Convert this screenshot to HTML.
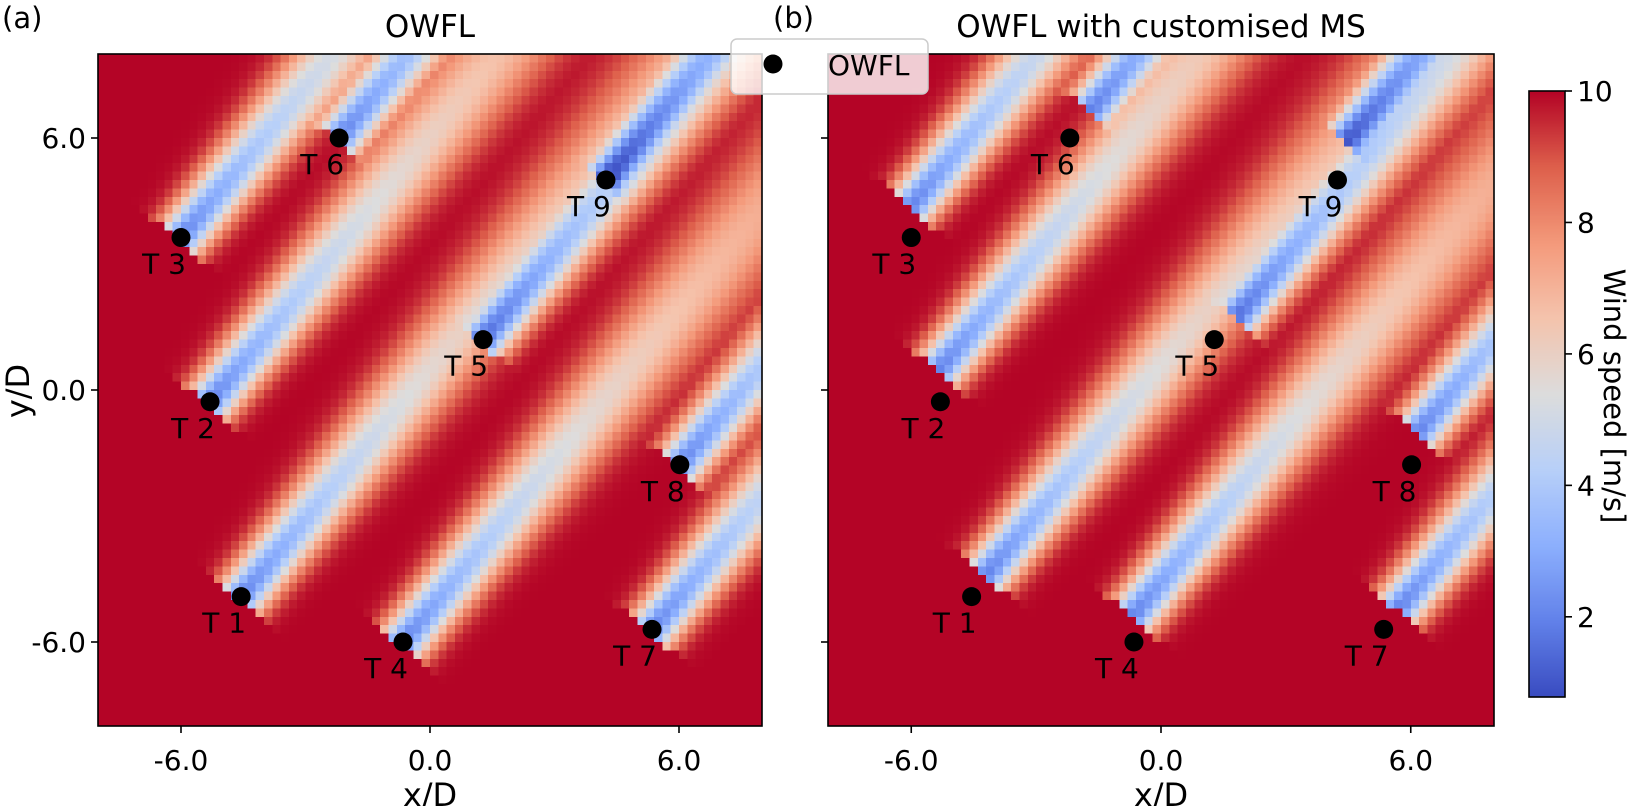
<!DOCTYPE html>
<html><head><meta charset="utf-8"><style>
html,body{margin:0;padding:0;background:#fff;}
#root{position:relative;width:1632px;height:806px;overflow:hidden;font-family:"Liberation Sans","DejaVu Sans",sans-serif;}
canvas{position:absolute;image-rendering:pixelated;}
svg{position:absolute;left:0;top:0;}
text{font-family:"DejaVu Sans","Liberation Sans",sans-serif;fill:#000;}
</style></head><body>
<div id="root">
<canvas id="hmA" width="80" height="80" style="left:98px;top:54px;width:664px;height:672px;"></canvas>
<canvas id="hmB" width="80" height="80" style="left:828px;top:54px;width:666px;height:672px;"></canvas>
<canvas id="cbar" width="1" height="200" style="left:1529px;top:91px;width:36px;height:606px;image-rendering:auto;"></canvas>
<svg id="ov" width="1632" height="806"></svg>
</div>
<script>
// ---- data ----
const turbineNames = ["T 1","T 2","T 3","T 4","T 5","T 6","T 7","T 8","T 9"];
const turbineX = [-4.55,-5.3,-6.0,-0.65,1.28,-2.19,5.35,6.02,4.24];
const turbineY = [-4.92,-0.28,3.63,-6.0,1.2,6.0,-5.7,-1.78,5.0];
const wakeShiftX = [0.38,0.0,0.03,0.0,0.56,0.52,0.38,0.18,0.24];
const wakeShiftY = [0.56,0.8,0.79,0.66,0.55,0.69,0.53,0.81,0.96];
const xTicks = [-6,0,6];
const yTicks = [6,0,-6];
const cbarTicks = [10,8,6,4,2];
const windDirDeg = 50;
const freeStream = 10, vmin = 0.78, vmax = 10;

const NS="http://www.w3.org/2000/svg";
const ov=document.getElementById('ov');
function el(tag,attrs,txt){const e=document.createElementNS(NS,tag);for(const k in attrs)e.setAttribute(k,attrs[k]);if(txt!==undefined)e.textContent=txt;ov.appendChild(e);return e;}

const panels=[
 {id:'hmA',x0:98,x1:762,y0:54,y1:726,cx:430,title:'OWFL',lab:'(a)',labX:2,shift:false,key:'a'},
 {id:'hmB',x0:828,x1:1494,y0:54,y1:726,cx:1161,title:'OWFL with customised MS',lab:'(b)',labX:773,shift:true,key:'b'}
];
function xScale(p,v){return p.x0+(v+8)/16*(p.x1-p.x0);}
function yScale(p,v){return p.y1-(v+8)/16*(p.y1-p.y0);}

const cmapStops=[[58,76,193],[98,130,234],[141,176,254],[184,208,249],[221,221,221],[245,196,173],[244,154,123],[222,96,76],[180,4,38]];
function cmap(v){let t=(v-vmin)/(vmax-vmin);t=Math.max(0,Math.min(1,t));const f=t*8;const i=Math.min(7,Math.floor(f));const r=f-i;const a=cmapStops[i],b=cmapStops[i+1];return [a[0]+(b[0]-a[0])*r,a[1]+(b[1]-a[1])*r,a[2]+(b[2]-a[2])*r];}

const th=windDirDeg*Math.PI/180, wx=Math.cos(th), wy=Math.sin(th), nx=-wy, ny=wx;
function speed(x,y,shift){
  let sum=0, mx=0;
  for(let j=0;j<turbineX.length;j++){
    const ox=turbineX[j]+(shift?wakeShiftX[j]:0), oy=turbineY[j]+(shift?wakeShiftY[j]:0);
    const dx=x-ox, dy=y-oy;
    const d=dx*wx+dy*wy, r=dx*nx+dy*ny;
    if(d<-0.1) continue;
    const dd=Math.max(d,0);
    const A=0.8/Math.pow(1+0.05*dd,2);
    const sg=0.4+0.028*dd;
    const def=A*Math.exp(-r*r/(2*sg*sg));
    sum+=def; if(def>mx) mx=def;
  }
  const tot=Math.min(0.9,mx+0.2*(sum-mx));
  return freeStream*(1-tot);
}

panels.forEach(p=>{
  const c=document.getElementById(p.id), ctx=c.getContext('2d');
  const img=ctx.createImageData(80,80);
  for(let j=0;j<80;j++)for(let i=0;i<80;i++){
    const x=-8+0.1+0.2*i, y=8-0.1-0.2*j;
    const col=cmap(speed(x,y,p.shift));
    const k=(j*80+i)*4;img.data[k]=col[0];img.data[k+1]=col[1];img.data[k+2]=col[2];img.data[k+3]=255;
  }
  ctx.putImageData(img,0,0);
  const frame=el('rect',{x:p.x0,y:p.y0,width:p.x1-p.x0,height:p.y1-p.y0,fill:'none',stroke:'#000','stroke-width':1.6});
  
  
  const t=el('text',{x:p.cx,y:37,'font-size':31,'text-anchor':'middle'},p.title);
  
  
  const lb=el('text',{x:p.labX,y:28,'font-size':29},p.lab);
  
  
  xTicks.forEach(v=>{
    const X=xScale(p,v);
    const tk=el('line',{x1:X,x2:X,y1:p.y1,y2:p.y1+7,stroke:'#000','stroke-width':1.6});
    
    
    const tl=el('text',{x:X,y:p.y1+44,'font-size':28,'text-anchor':'middle'},v.toFixed(1));
    
    
  });
  yTicks.forEach(v=>{
    const Y=yScale(p,v);
    const tk=el('line',{x1:p.x0-7,x2:p.x0,y1:Y,y2:Y,stroke:'#000','stroke-width':1.6});
    
    
    if(p.key==='a'){
      const tl=el('text',{x:p.x0-12,y:Y+10,'font-size':28,'text-anchor':'end'},v.toFixed(1));
      
      
    }
  });
  const xl=el('text',{x:p.cx,y:806,'font-size':32,'text-anchor':'middle'},'x/D');
  
  
  turbineX.forEach((tx,j)=>{
    const X=xScale(p,tx), Y=yScale(p,turbineY[j]);
    const dot=el('circle',{cx:X,cy:Y,r:9.5,fill:'#000'});
    
    
    const tl=el('text',{x:X-17,y:Y+36,'font-size':28,'text-anchor':'middle'},turbineNames[j]);
    
    
  });
});
const yl=el('text',{x:0,y:0,'font-size':32,'text-anchor':'middle',transform:'translate(29,391) rotate(-90)'},'y/D');



// legend
const lg=el('rect',{x:731,y:39,width:197,height:55,rx:6,fill:'#fff','fill-opacity':0.8,stroke:'#ccc','stroke-width':1.5});


const ld=el('circle',{cx:773,cy:64,r:9.5,fill:'#000'});


const lt=el('text',{x:828,y:75,'font-size':28},'OWFL');



// colorbar
const cb=document.getElementById('cbar').getContext('2d');
for(let i=0;i<200;i++){const v=vmax-(vmax-vmin)*(i+0.5)/200;const c=cmap(v);cb.fillStyle=`rgb(${c[0]|0},${c[1]|0},${c[2]|0})`;cb.fillRect(0,i,1,1);}
const cbT=91,cbB=697;
function cbScale(v){return cbT+(vmax-v)/(vmax-vmin)*(cbB-cbT);}
const cbf=el('rect',{x:1529,y:cbT,width:36,height:cbB-cbT,fill:'none',stroke:'#000','stroke-width':1.6});


cbarTicks.forEach(v=>{
  const Y=cbScale(v);
  const tk=el('line',{x1:1565,x2:1572,y1:Y,y2:Y,stroke:'#000','stroke-width':1.6});
  
  
  const tl=el('text',{x:1577,y:Y+10,'font-size':28},String(v));
  
  
});
const cl=el('text',{x:0,y:0,'font-size':29,'text-anchor':'middle',transform:'translate(1604,396) rotate(90)'},'Wind speed [m/s]');


</script>
</body></html>
